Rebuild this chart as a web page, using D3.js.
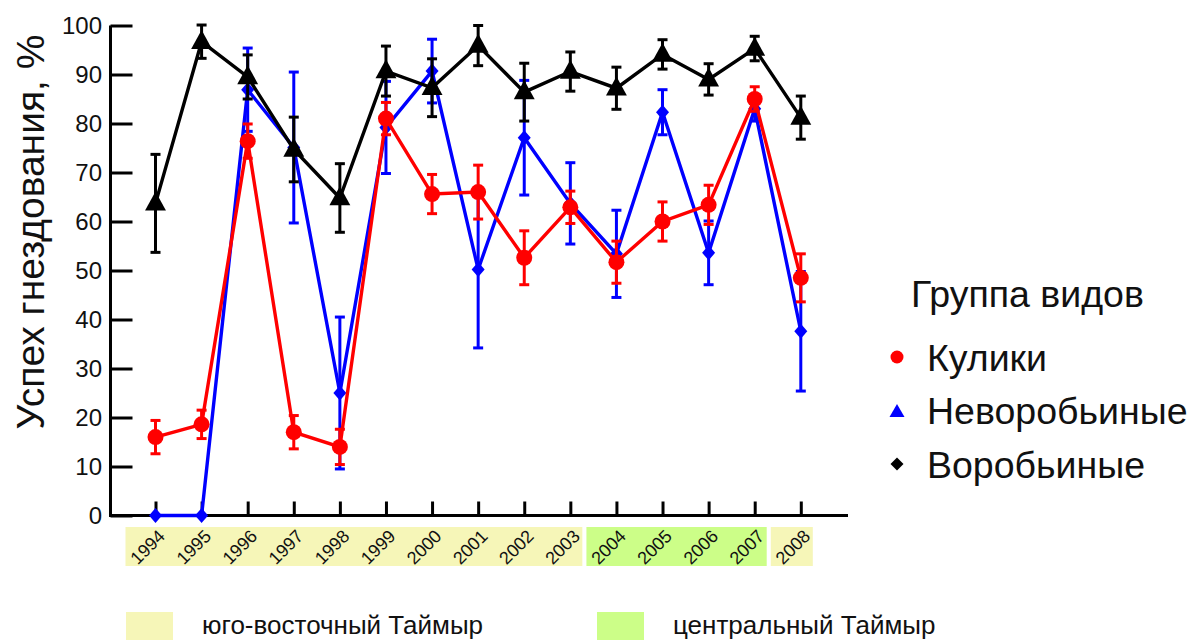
<!DOCTYPE html>
<html>
<head>
<meta charset="utf-8">
<script src="https://cdn.jsdelivr.net/npm/d3@7"></script>
<style>
  html, body { margin: 0; padding: 0; background: #fff; }
  svg { display: block; font-family: "Liberation Sans", Arial, sans-serif; }
</style>
</head>
<body>
<svg id="chart" width="1195" height="640"></svg>
<script>
// Nesting success by year, three species groups (mean ± error)
const years = [1994, 1995, 1996, 1997, 1998, 1999, 2000, 2001, 2002, 2003, 2004, 2005, 2006, 2007, 2008];

const waderValues = [16, 18.6, 76.4, 17, 14, 81, 65.6, 66, 52.6, 62.9, 51.7, 60, 63.4, 85, 48.5];
const waderErrors = [3.4, 2.9, 3.5, 3.4, 3.6, 3.3, 4, 5.5, 5.5, 3.3, 4.3, 4, 4, 2.5, 4.9];

const nonPasserineValues = [0, 0, 86.9, 75.1, 25, 79.2, 90.7, 50.2, 77.1, 63.7, 53.4, 82.3, 53.6, 83, 37.6];
const nonPasserineErrors = [0, 0, 8.5, 15.4, 15.5, 9.4, 6.5, 16, 11.7, 8.3, 8.9, 4.6, 6.5, 2.5, 12.2];

const passerineValues = [63.7, 96.7, 89.5, 74.7, 64.8, 90.7, 87.3, 95.9, 86.4, 90.6, 87.2, 94.1, 89, 95.3, 81.2];
const passerineErrors = [10, 3.4, 4.5, 6.6, 7, 5.1, 5.9, 4.1, 5.9, 4, 4.3, 3, 3.2, 2.5, 4.4];

const yTicks = [0, 10, 20, 30, 40, 50, 60, 70, 80, 90, 100];

// study regions along the year axis
const regionNames = ["юго-восточный Таймыр", "центральный Таймыр"];
const regionColors = ["#f6f6b8", "#ccfe88"];
const regionFirstYear = [1994, 2004, 2008];
const regionLastYear = [2003, 2007, 2008];
const regionKind = [0, 1, 0];

const groupNames = ["Кулики", "Неворобьиные", "Воробьиные"];
const groupColors = ["#ff0000", "#0000ff", "#000000"];

const svg = d3.select("#chart");

const x = d3.scaleLinear().domain([1994, 2008]).range([155.5, 800.8]);
const y = d3.scaleLinear().domain([0, 100]).range([515.5, 25.5]);
const axisLeftX = 110.5, axisRightX = 848;

// region bands beneath the axis
const bandTop = 527, bandBottom = 566;
svg.append("g").selectAll("rect")
  .data(regionFirstYear.map((f, i) => ({ f, l: regionLastYear[i], k: regionKind[i] })))
  .join("rect")
  .attr("x", d => x(d.f) - 30)
  .attr("width", d => x(d.l) + 12 - (x(d.f) - 30))
  .attr("y", bandTop)
  .attr("height", bandBottom - bandTop)
  .attr("fill", d => regionColors[d.k]);

// year labels, slanted
svg.append("g").selectAll("text")
  .data(years)
  .join("text")
  .attr("transform", d => `translate(${x(d) - 8},${547}) rotate(-45)`)
  .attr("text-anchor", "middle")
  .attr("dy", "0.35em")
  .attr("font-size", 18)
  .attr("fill", "#111")
  .text(d => d);

// axes
const yAxis = d3.axisRight(y).tickValues(yTicks).tickSize(22).tickFormat("");
const yg = svg.append("g").attr("transform", `translate(${axisLeftX},0)`).call(yAxis);
yg.select(".domain").remove();
yg.selectAll(".tick line").attr("stroke", "#000").attr("stroke-width", 3);

svg.append("g").selectAll("text")
  .data(yTicks)
  .join("text")
  .attr("x", 102)
  .attr("y", d => y(d))
  .attr("dy", "0.36em")
  .attr("text-anchor", "end")
  .attr("font-size", 24)
  .attr("fill", "#111")
  .text(d => d);

const xAxis = d3.axisTop(x).tickValues(years).tickSize(14).tickFormat("");
const xg = svg.append("g").attr("transform", `translate(0,${y(0)})`).call(xAxis);
xg.select(".domain").remove();
xg.selectAll(".tick line").attr("stroke", "#000").attr("stroke-width", 3);

svg.append("path")
  .attr("d", `M${axisLeftX},${y(100)}V${y(0)}H${axisRightX}`)
  .attr("fill", "none").attr("stroke", "#000").attr("stroke-width", 3);

// y title
svg.append("text")
  .attr("transform", `translate(44,${232}) rotate(-90)`)
  .attr("text-anchor", "middle")
  .attr("font-size", 39)
  .attr("fill", "#111")
  .text("Успех гнездования, %");

// series
const triangle = s => `M0,${-s * 0.62}L${s * 0.55},${s * 0.38}L${-s * 0.55},${s * 0.38}Z`;
const diamond = (w, h) => `M0,${-h}L${w},0L0,${h}L${-w},0Z`;

function drawSeries(values, errors, color, marker) {
  const g = svg.append("g");
  const pts = years.map((yr, i) => ({ yr, v: values[i], e: errors[i] }));
  g.append("path")
    .datum(pts)
    .attr("fill", "none")
    .attr("stroke", color)
    .attr("stroke-width", 3.4)
    .attr("d", d3.line().x(d => x(d.yr)).y(d => y(d.v)));
  const eb = g.selectAll("g.err").data(pts.filter(d => d.e > 0)).join("g").attr("class", "err")
    .attr("stroke", color).attr("stroke-width", 3);
  eb.append("line").attr("x1", d => x(d.yr)).attr("x2", d => x(d.yr))
    .attr("y1", d => y(d.v + d.e)).attr("y2", d => y(d.v - d.e));
  eb.append("line").attr("x1", d => x(d.yr) - 5).attr("x2", d => x(d.yr) + 5)
    .attr("y1", d => y(d.v + d.e)).attr("y2", d => y(d.v + d.e));
  eb.append("line").attr("x1", d => x(d.yr) - 5).attr("x2", d => x(d.yr) + 5)
    .attr("y1", d => y(d.v - d.e)).attr("y2", d => y(d.v - d.e));
  if (marker === "circle") {
    g.selectAll("circle").data(pts).join("circle")
      .attr("cx", d => x(d.yr)).attr("cy", d => y(d.v)).attr("r", 8).attr("fill", color);
  } else if (marker === "triangle") {
    g.selectAll("path.m").data(pts).join("path").attr("class", "m")
      .attr("transform", d => `translate(${x(d.yr)},${y(d.v)})`)
      .attr("d", triangle(19)).attr("fill", color);
  } else {
    g.selectAll("path.m").data(pts).join("path").attr("class", "m")
      .attr("transform", d => `translate(${x(d.yr)},${y(d.v)})`)
      .attr("d", diamond(6.5, 7.5)).attr("fill", color);
  }
}

drawSeries(nonPasserineValues, nonPasserineErrors, groupColors[1], "diamond");
drawSeries(waderValues, waderErrors, groupColors[0], "circle");
drawSeries(passerineValues, passerineErrors, groupColors[2], "triangle");

// legend of species groups
const lg = svg.append("g");
lg.append("text").attr("x", 911).attr("y", 307).attr("font-size", 37.5).attr("fill", "#111").text("Группа видов");
const legendY = [357, 410, 464];
lg.selectAll("text.item").data(groupNames).join("text").attr("class", "item")
  .attr("x", 927).attr("y", (d, i) => legendY[i]).attr("dy", "0.36em")
  .attr("font-size", 37.5).attr("fill", "#111").text(d => d);
lg.append("circle").attr("cx", 897).attr("cy", legendY[0]).attr("r", 6.5).attr("fill", groupColors[0]);
lg.append("path").attr("transform", `translate(897,${legendY[1] + 1})`)
  .attr("d", "M0,-7L7.5,6H-7.5Z").attr("fill", groupColors[1]);
lg.append("path").attr("transform", `translate(897,${legendY[2]})`)
  .attr("d", diamond(6.5, 6.5)).attr("fill", groupColors[2]);

// legend of regions
const rx = [126, 597];
const rg = svg.append("g");
rg.selectAll("rect").data(regionNames).join("rect")
  .attr("x", (d, i) => rx[i]).attr("y", 612).attr("width", 47).attr("height", 30)
  .attr("fill", (d, i) => regionColors[i]);
rg.selectAll("text").data(regionNames).join("text")
  .attr("x", (d, i) => rx[i] + 76).attr("y", 634)
  .attr("font-family", "'Liberation Sans Narrow', 'Arial Narrow', sans-serif")
  .attr("font-size", 26).attr("fill", "#111").text(d => d);
</script>
</body>
</html>
